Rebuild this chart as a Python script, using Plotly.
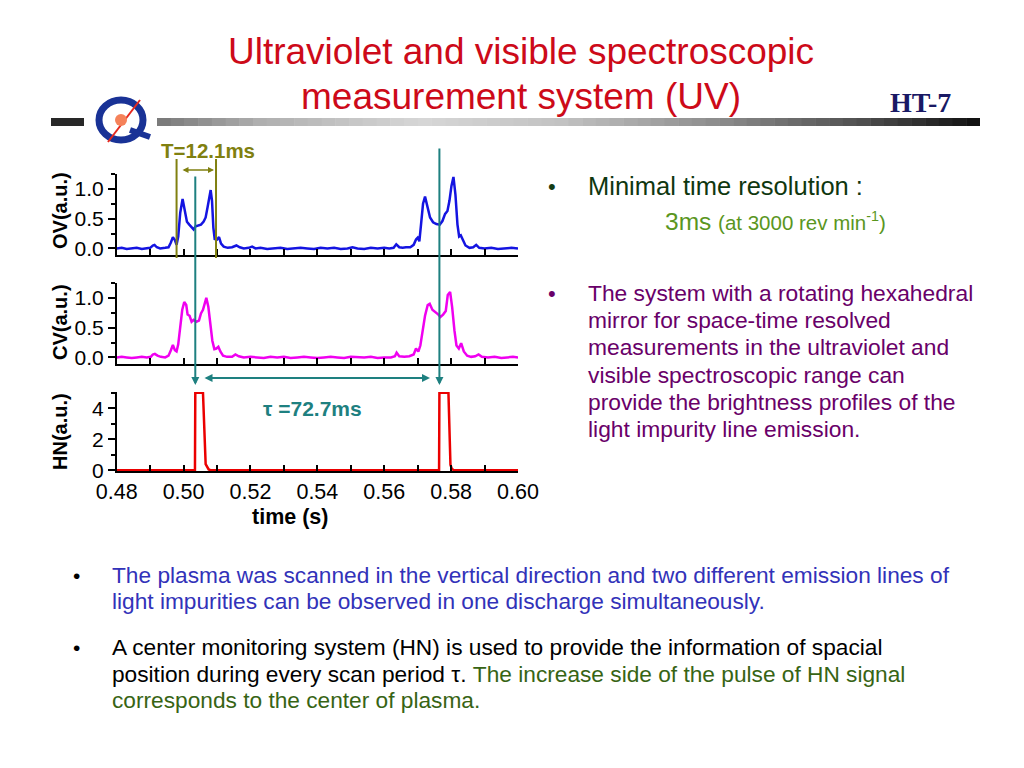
import plotly.graph_objects as go

# ---------------- data ----------------
ov_t = [0.4800, 0.4815, 0.4830, 0.4845, 0.4860, 0.4875, 0.4890, 0.4900, 0.4908, 0.4913,
        0.4920, 0.4930, 0.4945, 0.4955, 0.4962, 0.4968, 0.4974, 0.4979, 0.4984, 0.4990,
        0.4997, 0.5003, 0.5010, 0.5017, 0.5024, 0.5030, 0.5036, 0.5044, 0.5052, 0.5060,
        0.5066, 0.5072, 0.5078, 0.5081, 0.5085, 0.5089, 0.5093, 0.5100, 0.5106, 0.5112,
        0.5120, 0.5132, 0.5145, 0.5158, 0.5168, 0.5180, 0.5195, 0.5205, 0.5215, 0.5230,
        0.5250, 0.5270, 0.5290, 0.5310, 0.5330, 0.5350, 0.5370, 0.5390, 0.5410, 0.5430,
        0.5450, 0.5470, 0.5490, 0.5505, 0.5520, 0.5540, 0.5560, 0.5580, 0.5600, 0.5615,
        0.5628, 0.5636, 0.5645, 0.5655, 0.5665, 0.5678, 0.5688, 0.5695, 0.5700, 0.5705,
        0.5710, 0.5716, 0.5722, 0.5729, 0.5737, 0.5746, 0.5756, 0.5766, 0.5774, 0.5782,
        0.5789, 0.5795, 0.5801, 0.5807, 0.5813, 0.5819, 0.5824, 0.5829, 0.5835, 0.5843,
        0.5855, 0.5866, 0.5875, 0.5884, 0.5900, 0.5920, 0.5940, 0.5960, 0.5980, 0.6000]
ov_v = [0.00, 0.01, -0.01, 0.00, 0.01, -0.01, 0.00, 0.01, 0.05, 0.06,
        0.02, 0.00, 0.01, 0.02, 0.10, 0.19, 0.14, 0.06, 0.20, 0.60,
        0.83, 0.65, 0.45, 0.40, 0.36, 0.32, 0.37, 0.38, 0.40, 0.45,
        0.52, 0.70, 0.90, 0.98, 0.80, 0.35, 0.16, 0.15, 0.19, 0.08,
        0.03, 0.01, 0.02, 0.05, 0.02, 0.00, 0.01, 0.03, 0.00, 0.01,
        -0.01, 0.00, 0.01, -0.01, 0.00, 0.01, 0.00, -0.01, 0.01, 0.00,
        0.01, -0.01, 0.00, 0.02, 0.00, -0.01, 0.01, 0.00, 0.01, 0.00,
        0.01, 0.07, 0.02, 0.01, 0.02, 0.02, 0.06, 0.15, 0.18, 0.12,
        0.40, 0.75, 0.87, 0.68, 0.52, 0.44, 0.41, 0.40, 0.46, 0.58,
        0.63, 0.80, 1.05, 1.20, 0.90, 0.40, 0.20, 0.22, 0.14, 0.05,
        0.01, 0.02, 0.06, 0.01, 0.00, 0.01, -0.01, 0.00, 0.01, 0.00]

cv_t = [0.4800, 0.4815, 0.4830, 0.4845, 0.4860, 0.4875, 0.4890, 0.4902, 0.4908, 0.4914,
        0.4922, 0.4932, 0.4945, 0.4955, 0.4962, 0.4968, 0.4974, 0.4979, 0.4984, 0.4990,
        0.4996, 0.5002, 0.5008, 0.5012, 0.5018, 0.5024, 0.5030, 0.5038, 0.5046, 0.5052,
        0.5058, 0.5064, 0.5068, 0.5074, 0.5080, 0.5086, 0.5092, 0.5098, 0.5104, 0.5110,
        0.5118, 0.5130, 0.5145, 0.5155, 0.5165, 0.5180, 0.5200, 0.5220, 0.5240, 0.5260,
        0.5280, 0.5300, 0.5320, 0.5340, 0.5360, 0.5380, 0.5400, 0.5420, 0.5440, 0.5460,
        0.5480, 0.5500, 0.5520, 0.5540, 0.5560, 0.5580, 0.5600, 0.5620, 0.5632, 0.5637,
        0.5645, 0.5660, 0.5675, 0.5688, 0.5695, 0.5702, 0.5708, 0.5715, 0.5722, 0.5730,
        0.5736, 0.5744, 0.5754, 0.5762, 0.5768, 0.5776, 0.5784, 0.5790, 0.5797, 0.5803,
        0.5810, 0.5816, 0.5823, 0.5830, 0.5838, 0.5848, 0.5860, 0.5872, 0.5882, 0.5892,
        0.5910, 0.5930, 0.5950, 0.5970, 0.5985, 0.6000]
cv_v = [0.00, 0.01, 0.00, -0.01, 0.00, 0.01, 0.00, 0.01, 0.05, 0.06,
        0.03, 0.01, 0.00, 0.03, 0.12, 0.21, 0.12, 0.10, 0.22, 0.48,
        0.80, 0.93, 0.88, 0.72, 0.70, 0.60, 0.63, 0.60, 0.62, 0.74,
        0.80, 0.92, 1.00, 0.85, 0.55, 0.28, 0.14, 0.15, 0.18, 0.10,
        0.03, 0.01, 0.01, 0.05, 0.02, 0.00, 0.01, 0.00, -0.01, 0.01,
        0.00, 0.01, -0.01, 0.00, 0.01, 0.00, -0.01, 0.00, 0.01, 0.00,
        -0.01, 0.01, 0.00, 0.00, 0.01, -0.01, 0.00, 0.00, 0.02, 0.08,
        0.02, 0.01, 0.02, 0.05, 0.15, 0.10, 0.20, 0.48, 0.70, 0.88,
        0.90, 0.80, 0.76, 0.72, 0.68, 0.72, 0.78, 1.05, 1.10, 0.85,
        0.45, 0.20, 0.15, 0.24, 0.10, 0.03, 0.01, 0.02, 0.05, 0.01,
        0.00, 0.01, -0.01, 0.00, 0.01, 0.00]

hn_t = [0.4800, 0.4900, 0.5000, 0.5034, 0.5035, 0.5058, 0.5066, 0.5070, 0.5075, 0.5080,
        0.5200, 0.5400, 0.5600, 0.5764, 0.5765, 0.5792, 0.5798, 0.5802, 0.5808, 0.5900, 0.6000]
hn_v = [0.00, 0.00, 0.00, 0.00, 5.00, 5.00, 0.40, 0.25, 0.05, 0.00,
        0.00, 0.00, 0.00, 0.00, 5.00, 5.00, 0.35, 0.10, 0.00, 0.00, 0.00]

x_ticks = [0.48, 0.50, 0.52, 0.54, 0.56, 0.58, 0.60]
x_ticklabels = ["0.48", "0.50", "0.52", "0.54", "0.56", "0.58", "0.60"]
ov_ticks = [0.0, 0.5, 1.0]
ov_ticklabels = ["0.0", "0.5", "1.0"]
hn_ticks = [0, 2, 4]
hn_ticklabels = ["0", "2", "4"]
pulse_period = ["T=12.1ms", "\u03c4 =72.7ms"]
T_marks = [0.4979, 0.5097]          # olive markers of T
tau_marks = [0.5035, 0.5765]        # rising edges of HN pulses

# ---------------- helpers ----------------
W, H = 1024, 768
OFF = 8  # page body margin compensation
def px(x):
    return (x - OFF) / W
def py(y):
    return 1 - (y - OFF) / H

FONT = "Liberation Sans, Arial, sans-serif"
BLUE = "rgb(20,20,225)"
MAG = "rgb(240,0,240)"
RED = "rgb(235,0,0)"
TEAL = "rgb(30,128,128)"
OLIVE = "rgb(128,128,16)"

fig = go.Figure()
fig.add_trace(go.Scatter(x=ov_t, y=ov_v, mode="lines", line=dict(color=BLUE, width=2.5),
                         xaxis="x", yaxis="y", showlegend=False))
fig.add_trace(go.Scatter(x=cv_t, y=cv_v, mode="lines", line=dict(color=MAG, width=2.5),
                         xaxis="x2", yaxis="y2", showlegend=False))
fig.add_trace(go.Scatter(x=hn_t, y=hn_v, mode="lines", line=dict(color=RED, width=2.5),
                         xaxis="x3", yaxis="y3", showlegend=False))

xdom = [px(116.7), px(518)]
def xax(anchor, labels):
    d = dict(domain=xdom, anchor=anchor, range=[0.48, 0.60], showgrid=False, zeroline=False,
             showline=True, linecolor="black", linewidth=1.5, ticks="inside", ticklen=6,
             tickcolor="black", tickwidth=1.5, tickvals=x_ticks, ticktext=x_ticklabels,
             showticklabels=labels, tickfont=dict(family=FONT, size=21.5, color="black"),
             automargin=False,
             minor=dict(ticks="inside", dtick=0.01, tick0=0.48, ticklen=6, tickcolor="black",
                        tickwidth=1.5))
    return d
def yax(anchor, dom, rng, vals, text, minor_dt):
    return dict(domain=dom, anchor=anchor, range=rng, showgrid=False, zeroline=False,
                showline=True, linecolor="black", linewidth=1.5, ticks="outside", ticklen=7,
                tickcolor="black", tickwidth=1.5, tickvals=vals, ticktext=text,
                tickfont=dict(family=FONT, size=21, color="black"), automargin=False,
                minor=dict(ticks="outside", dtick=minor_dt, tick0=0, ticklen=4,
                           tickcolor="black", tickwidth=1.5))

shapes = []
annotations = []

# gradient header bar
shapes.append(dict(type="rect", xref="paper", yref="paper", x0=px(51), x1=px(84),
                   y0=py(126), y1=py(118), fillcolor="rgb(40,40,40)", line=dict(width=0)))
stops = [(157, 120), (260, 175), (420, 215), (560, 195), (720, 140), (860, 80), (980, 15)]
nseg = 60
for i in range(nseg):
    xa = 157 + (980 - 157) * i / nseg
    xb = 157 + (980 - 157) * (i + 1) / nseg + 0.5
    xm = (xa + xb) / 2
    g = 15
    for j in range(len(stops) - 1):
        if stops[j][0] <= xm <= stops[j + 1][0]:
            f = (xm - stops[j][0]) / (stops[j + 1][0] - stops[j][0])
            g = int(stops[j][1] + f * (stops[j + 1][1] - stops[j][1]))
            break
    shapes.append(dict(type="rect", xref="paper", yref="paper", x0=px(xa), x1=px(min(xb, 980)),
                       y0=py(126), y1=py(118), fillcolor=f"rgb({g},{g},{g})", line=dict(width=0)))

# logo (approximation)
shapes.append(dict(type="circle", xref="paper", yref="paper", x0=px(99), x1=px(143),
                   y0=py(140), y1=py(100), line=dict(color="rgb(25,50,150)", width=7)))
shapes.append(dict(type="line", xref="paper", yref="paper", x0=px(130), x1=px(150),
                   y0=py(130), y1=py(137), line=dict(color="rgb(25,50,150)", width=6)))
shapes.append(dict(type="line", xref="paper", yref="paper", x0=px(108), x1=px(140),
                   y0=py(142), y1=py(100), line=dict(color="rgb(230,40,30)", width=2)))
shapes.append(dict(type="circle", xref="paper", yref="paper", x0=px(115), x1=px(127),
                   y0=py(126), y1=py(114), fillcolor="rgb(245,130,90)", line=dict(width=0)))

# olive T markers
for t in T_marks:
    shapes.append(dict(type="line", xref="x", yref="paper", x0=t, x1=t, y0=py(159), y1=py(258),
                       line=dict(color=OLIVE, width=2)))
annotations.append(dict(xref="paper", yref="paper", x=px(214), y=py(170), ax=-33, ay=0,
                        axref="pixel", ayref="pixel", text="", showarrow=True,
                        arrowhead=2, arrowside="end+start", arrowsize=0.8, arrowwidth=1.5,
                        arrowcolor=OLIVE))
annotations.append(dict(xref="paper", yref="paper", x=px(208), y=py(150),
                        text="<b>" + pulse_period[0] + "</b>",
                        showarrow=False, font=dict(family=FONT, size=20.5, color=OLIVE),
                        xanchor="center", yanchor="middle"))

# teal tau markers with arrowheads
for t, ytop in zip(tau_marks, [175, 147]):
    annotations.append(dict(xref="x3", yref="paper", x=t, y=py(385), ax=0, ay=-(385 - ytop),
                            axref="pixel", ayref="pixel", text="", showarrow=True,
                            arrowhead=2, arrowsize=0.8, arrowwidth=2, arrowcolor=TEAL))
annotations.append(dict(xref="paper", yref="paper", x=px(430), y=py(378), ax=-(430 - 203), ay=0,
                        axref="pixel", ayref="pixel", text="", showarrow=True,
                        arrowhead=2, arrowside="end+start", arrowsize=0.8, arrowwidth=2,
                        arrowcolor=TEAL))
annotations.append(dict(xref="paper", yref="paper", x=px(312), y=py(408),
                        text="<b>" + pulse_period[1] + "</b>", showarrow=False,
                        font=dict(family=FONT, size=21, color=TEAL), xanchor="center",
                        yanchor="middle"))

# axis titles
for lab, yc in [("OV(a.u.)", 211), ("CV(a.u.)", 322), ("HN(a.u.)", 432)]:
    annotations.append(dict(xref="paper", yref="paper", x=px(60), y=py(yc), text="<b>" + lab + "</b>",
                            textangle=-90, showarrow=False, xanchor="center", yanchor="middle",
                            font=dict(family=FONT, size=20, color="black")))
annotations.append(dict(xref="paper", yref="paper", x=px(290), y=py(517), text="<b>time (s)</b>",
                        showarrow=False, xanchor="center", yanchor="middle",
                        font=dict(family=FONT, size=21.5, color="black")))

# title
TITLE_RED = "rgb(205,10,25)"
for txt_, yc in [("Ultraviolet and visible spectroscopic", 52), ("measurement system (UV)", 97)]:
    annotations.append(dict(xref="paper", yref="paper", x=px(521), y=py(yc), text=txt_,
                            showarrow=False, xanchor="center", yanchor="middle",
                            font=dict(family="Liberation Sans Narrow, Liberation Sans, sans-serif",
                                      size=37, color=TITLE_RED)))
annotations.append(dict(xref="paper", yref="paper", x=px(920), y=py(103), text="<b>HT-7</b>",
                        showarrow=False, xanchor="center", yanchor="middle",
                        font=dict(family="Liberation Serif, Times New Roman, serif", size=28,
                                  color="rgb(25,25,100)")))

def txt(x, y, s, size, color, anchor="left"):
    annotations.append(dict(xref="paper", yref="paper", x=px(x), y=py(y), text=s, showarrow=False,
                            xanchor=anchor, yanchor="middle",
                            font=dict(family=FONT, size=size, color=color)))

# right bullets
txt(552, 186, "\u2022", 22, "rgb(20,60,20)", "center")
txt(586, 186, "Minimal time resolution :", 25.5, "rgb(15,55,15)")
txt(663, 221, "3ms <span style='font-size:20.5px'>(at 3000 rev min<sup>-1</sup>)</span>", 24.5,
    "rgb(90,150,30)")
PURPLE = "rgb(105,0,105)"
txt(552, 293, "\u2022", 22, PURPLE, "center")
para = ["The system with a rotating hexahedral", "mirror for space-time resolved",
        "measurements in the ultraviolet and", "visible spectroscopic range can",
        "provide the brightness profiles of the", "light impurity line emission."]
for i, line in enumerate(para):
    txt(586, 293 + i * 27.2, line, 22.8, PURPLE)

# bottom bullets
BLUE_TXT = "rgb(50,50,185)"
GREEN_TXT = "rgb(55,100,20)"
BOT = 22.7
txt(76, 575, "\u2022", 21, "black", "center")
txt(110, 575, "The plasma was scanned in the vertical direction and two different emission lines of", BOT, BLUE_TXT)
txt(110, 601, "light impurities can be observed in one discharge simultaneously.", BOT, BLUE_TXT)
txt(76, 647, "\u2022", 21, "black", "center")
txt(110, 647, "A center monitoring system (HN) is used to provide the information of spacial", BOT, "black")
txt(110, 674, "position during every scan period \u03c4. <span style='color:" + GREEN_TXT +
    "'>The increase side of the pulse of HN signal</span>", BOT, "black")
txt(110, 700, "corresponds to the center of plasma.", BOT, GREEN_TXT)

fig.update_layout(
    width=W, height=H, autosize=False,
    margin=dict(l=0, r=0, t=0, b=0, pad=0, autoexpand=False),
    paper_bgcolor="white", plot_bgcolor="rgba(0,0,0,0)",
    xaxis=xax("y", False),
    xaxis2=xax("y2", False),
    xaxis3=xax("y3", True),
    yaxis=yax("x", [py(255), py(174)], [-0.11, 1.25], ov_ticks, ov_ticklabels, 0.25),
    yaxis2=yax("x2", [py(364), py(283)], [-0.11, 1.25], ov_ticks, ov_ticklabels, 0.25),
    yaxis3=yax("x3", [py(471), py(392)], [-0.05, 5.05], hn_ticks, hn_ticklabels, 1),
    shapes=shapes, annotations=annotations, showlegend=False,
)
fig.write_html("out.html")
